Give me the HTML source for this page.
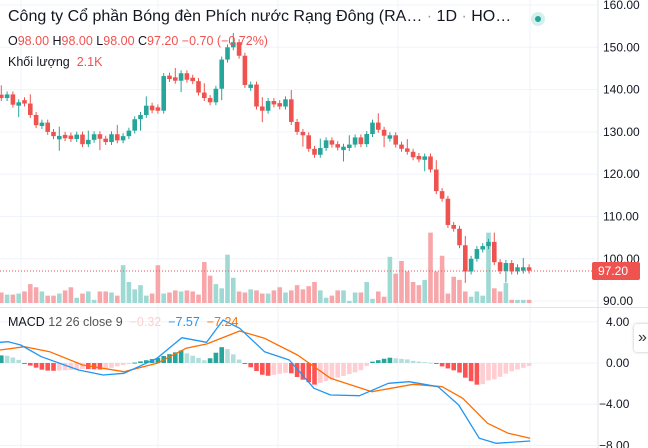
<!DOCTYPE html>
<html><head><meta charset="utf-8"><style>
body{margin:0;background:#fff;width:648px;height:448px;overflow:hidden;font-family:"Liberation Sans","Noto Sans CJK SC",sans-serif}
svg{position:absolute;left:0;top:0}
.t{position:absolute;white-space:nowrap;color:#131722}
</style></head><body>
<svg id="s" width="648" height="448" xmlns="http://www.w3.org/2000/svg"></svg>
<div class="t" style="left:8px;top:8px;font-size:16px">Công ty Cổ phần Bóng đèn Phích nước Rạng Đông (RA… <span style="color:#999">·</span> 1D <span style="color:#999">·</span> HO…</div>
<div style="position:absolute;left:531px;top:12px;width:14px;height:14px;border-radius:50%;background:#d5efec"></div>
<div style="position:absolute;left:535px;top:16px;width:6px;height:6px;border-radius:50%;background:#26a69a"></div>
<div class="t" style="left:8px;top:34px;font-size:12.5px;color:#ef5350"><span style="color:#131722">O</span>98.00 <span style="color:#131722">H</span>98.00 <span style="color:#131722">L</span>98.00 <span style="color:#131722">C</span>97.20 −0.70 (−0.72%)</div>
<div class="t" style="left:8px;top:55px;font-size:12.5px">Khối lượng <span style="color:#ef5350">&nbsp;2.1K</span></div>
<div class="t" style="left:8px;top:315px;font-size:12.5px">MACD <span style="color:#555">12 26 close 9</span> <span style="color:#ffcdd2">&nbsp;−0.32</span> <span style="color:#2196f3">&nbsp;−7.57</span> <span style="color:#ff6d00">&nbsp;−7.24</span></div>
<div style="position:absolute;left:634px;top:324px;width:20px;height:28px;background:#fff;box-shadow:0 0 3px #bbb;border-radius:3px;font-size:16px;color:#333;line-height:28px;padding-left:4px">»</div>
<script>
var s=document.getElementById('s'),h='';
function L(x1,y1,x2,y2,c,w,d){h+='<line x1="'+x1+'" y1="'+y1+'" x2="'+x2+'" y2="'+y2+'" stroke="'+c+'" stroke-width="'+(w||1)+'"'+(d?' stroke-dasharray="'+d+'"':'')+'/>';}
function R(x,y,w,hh,c){if(hh<0){y+=hh;hh=-hh;}h+='<rect x="'+x+'" y="'+y+'" width="'+w+'" height="'+Math.max(hh,1)+'" fill="'+c+'"/>';}
function T(x,y,t,c,sz){h+='<text x="'+x+'" y="'+y+'" font-size="'+(sz||12)+'" fill="'+(c||'#131722')+'" font-family="Liberation Sans, sans-serif">'+t+'</text>';}
var G='#f0f3fa';
[21,158,278,398,530].forEach(function(x){L(x,0,x,448,G)});
function py(p){return 5+(160-p)*4.23;}
[160,150,140,130,120,110,100,90].forEach(function(p){L(0,py(p),598,py(p),G);T(603,py(p)+4,p.toFixed(2),'#131722',12)});
function my(v){return 363-v*10.3;}
[4,0,-4,-8].forEach(function(v){L(0,my(v),598,my(v),G);T(v<0?599:606,my(v)+4,(v<0?'−':'')+Math.abs(v).toFixed(2),'#131722',12)});
L(0,307.5,648,307.5,'#e0e3eb');L(598,0,598,448,'#e0e3eb');
var k=[[0,138],[3,137],[5,134],[7,131],[9,129],[11,128.5],[14,128],[18,128.5],[20,128],[22,130],[23,133],[25,135],[26,136],[27,135],[28,142],[30,143],[33,142],[34,139],[35,138],[36,137],[37,139],[38,148],[39,150],[40,150],[41,148],[42,142],[43,140],[44,136],[45,135],[46,137],[48,136],[49,136.5],[51,130],[53,126],[55,125],[56,128],[58,126],[60,127],[62,128],[64,131],[66,130],[67,128],[69,126],[71,124],[73,123],[74,122],[75,116],[76,113],[77,108],[78,108],[79,102],[80,97],[81,100],[82,102],[83,103],[84,104],[85,98],[86,98],[87,99],[88,97],[89,98],[90,98],[91,97.2]];
var c=[];
for(var j=0;j<k.length-1;j++){for(var i=k[j][0];i<k[j+1][0];i++){c[i]=k[j][1]+(k[j+1][1]-k[j][1])*(i-k[j][0])/(k[j+1][0]-k[j][0]);}}
c[91]=97.2;
var N=92;
for(var i=0;i<N;i++){if(i%3==1&&i<88)c[i]+=1.2;if(i%4==2&&i<88)c[i]-=0.9;}
var vol=[10,8,8,9,11,18,15,11,7,7,9,12,15,5,9,11,3,11,11,10,7,36,20,13,17,7,9,36,9,10,12,11,12,11,8,39,26,18,14,46,24,11,10,13,12,9,9,12,15,10,12,17,13,16,20,12,5,7,12,12,2,10,10,20,4,11,6,44,28,40,30,20,17,22,67,30,45,9,25,22,11,6,11,7,67,14,11,19,3,3,3,3];
for(var i=0;i<N;i++){
 var x=1+i*5.8,o=i?c[i-1]:c[0]+0.5,cl=c[i],up=cl>=o;
 R(x-2,303,4.6,-(vol[i]||3)*1.05,up?'#9fd9d3':'#f7a7a9');
}
for(var i=0;i<N;i++){
 var x=1+i*5.8,o=i?c[i-1]:c[0]+0.5,cl=c[i],up=cl>=o,col=up?'#26a69a':'#ef5350';
 if(Math.abs(o-cl)<0.8){o=up?cl-0.8:cl+0.8;}
 var hi=Math.max(o,cl)+0.7+(i%5==0?1.5:0),lo=Math.min(o,cl)-0.7-(i%7==3?2:0);
 L(x+0.3,py(hi),x+0.3,py(lo),col,1);
 R(x-2,py(Math.max(o,cl)),4.6,Math.max(py(Math.min(o,cl))-py(Math.max(o,cl)),1.2),col);
}
L(0,271,598,271,'#ef5350',1,'1,2');
h+='<rect x="592" y="262" width="48" height="18" fill="#ef5350" rx="2"/>';T(598,275,'97.20','#fff',12);
function conv(a){return a.map(function(p){return [p[0]/2.42,p[1]/3+305]});}
var B=conv([[0,112],[20,110],[50,120],[100,155],[190,195],[250,210],[300,205],[380,160],[440,98],[500,112],[540,45],[580,70],[640,140],[700,165],[760,250],[800,270],[870,272],[940,235],[990,230],[1060,245],[1110,300],[1160,400],[1200,415],[1283,408]]);
var O=conv([[0,135],[60,125],[120,140],[200,180],[300,200],[380,175],[450,130],[500,117],[580,78],[640,100],[720,150],[800,220],[900,260],[1000,238],[1070,245],[1120,280],[1180,355],[1230,385],[1283,400]]);
function it(a,x){for(var j=0;j<a.length-1;j++){if(x<=a[j+1][0])return a[j][1]+(a[j+1][1]-a[j][1])*(x-a[j][0])/(a[j+1][0]-a[j][0]);}return a[a.length-1][1];}
var pv=0;
for(var i=0;i<N;i++){var x=1+i*5.8,d=it(O,x)-it(B,x);var col=d>=0?(d>=pv?'#26a69a':'#b2dfdb'):(d<=pv?'#ff5252':'#ffcdd2');R(x-2,363,4.6,-d,col);pv=d;}
function P(a,c){h+='<polyline fill="none" stroke="'+c+'" stroke-width="1.3" stroke-linejoin="round" points="'+a.map(function(p){return p[0].toFixed(1)+','+p[1].toFixed(1)}).join(' ')+'"/>';}
P(O,'#ff6d00');P(B,'#2196f3');
s.innerHTML=h;
</script>
</body></html>
